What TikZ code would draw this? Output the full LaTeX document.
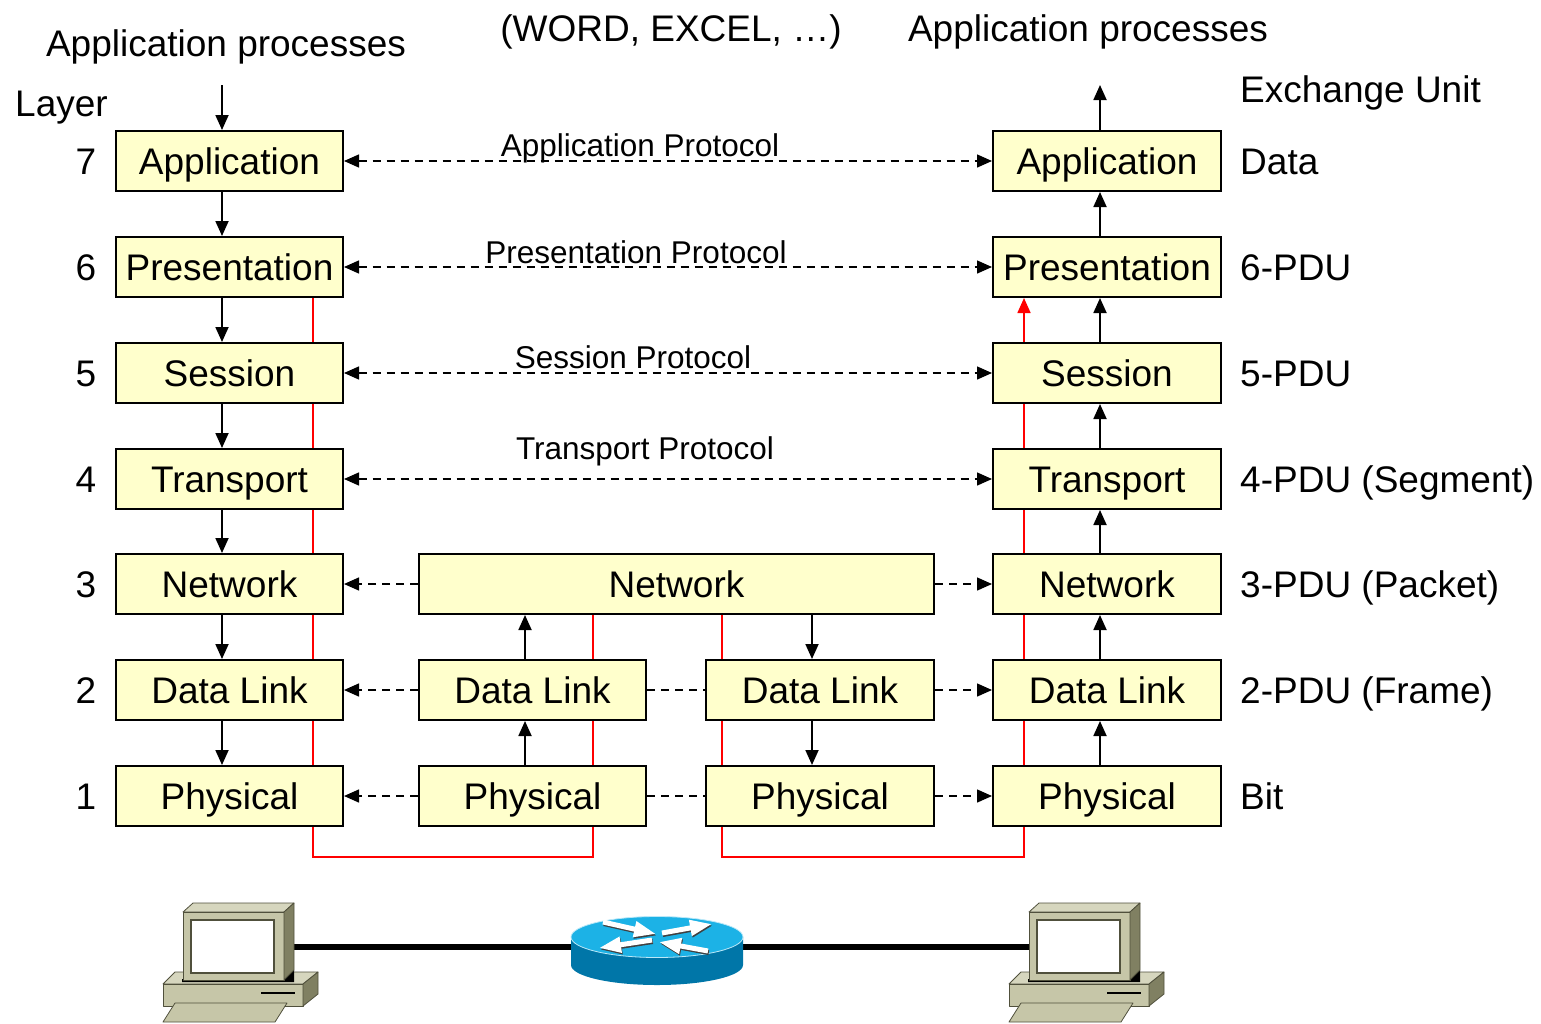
\documentclass[tikz,border=0pt]{standalone}
\usepackage{fontspec}
\setmainfont{Liberation Sans}
\usetikzlibrary{arrows.meta,calc}
\pgfdeclarelayer{background}
\pgfsetlayers{background,main}

\definecolor{boxfill}{HTML}{FFFFCC}
\definecolor{pcfront}{RGB}{198,198,168}
\definecolor{pctop}{RGB}{214,214,190}
\definecolor{pcside}{RGB}{128,128,98}
\definecolor{pcedge}{RGB}{80,80,60}
\definecolor{rtside}{RGB}{0,118,168}
\definecolor{rttop}{RGB}{28,178,230}

\tikzset{
  Tri/.tip={Triangle[length=15pt,width=13pt]},
  layerbox/.style={draw=black, line width=2pt, fill=boxfill,
    font=\fontsize{37}{41}\selectfont, text height=26.5pt, text depth=0pt,
    inner sep=0pt, minimum height=60pt},
  bigtxt/.style={font=\fontsize{37}{41}\selectfont, text height=26.5pt,
    text depth=0pt, inner sep=0pt},
  prototxt/.style={font=\fontsize{31.5}{36}\selectfont, text height=22.6pt,
    text depth=0pt, inner sep=0pt},
  arr/.style={line width=1.8pt, -Tri},
  dline/.style={line width=1.4pt, dash pattern=on 8pt off 6pt},
  redline/.style={draw=red, line width=1.6pt},
  cable/.style={line width=6pt},
  pcpart/.style={draw=pcedge, line width=0.8pt, line join=round},
  pc/.pic={
    % base unit
    \filldraw[pcpart, fill=pctop] (-20,72) -- (-8,60) -- (135,60) -- (120,72) -- cycle;
    \filldraw[pcpart, fill=pcfront] (-20,72) rectangle (120,94);
    \filldraw[pcpart, fill=pcside] (120,72) -- (135,60) -- (135,82) -- (120,94) -- cycle;
    \draw[line width=1.6pt, black] (78,81) -- (112,81);
    % keyboard
    \filldraw[pcpart, fill=pcfront] (-20,110) -- (-8,91) -- (104,91) -- (92,110) -- cycle;
    % monitor
    \fill[black] (-1,67) -- (101,67) -- (111,58) -- (111,70) -- (-1,70) -- cycle;
    \filldraw[pcpart, fill=pctop] (0,0) -- (10,-9) -- (111,-9) -- (101,0) -- cycle;
    \filldraw[pcpart, fill=pcfront] (0,0) rectangle (101,68);
    \filldraw[pcpart, fill=pcside] (101,0) -- (111,-9) -- (111,58) -- (101,68) -- cycle;
    \filldraw[draw=pcedge, line width=1.2pt, fill=white] (8,8) rectangle (91,61);
  },
  rtarrow/.style={white, line width=5pt, -{Triangle[length=22pt,width=15pt]}},
  rtshadow/.style={black!75, line width=5pt, -{Triangle[length=22pt,width=15pt]}},
}

\begin{document}
\begin{tikzpicture}[x=1pt,y=-1pt]
\useasboundingbox (0,0) rectangle (1541,1023);

% ---- left end system ----
\node[layerbox, minimum width=227pt] (l7) at (229.5,161) {Application};
\node[layerbox, minimum width=227pt] (l6) at (229.5,267) {Presentation};
\node[layerbox, minimum width=227pt] (l5) at (229.5,373) {Session};
\node[layerbox, minimum width=227pt] (l4) at (229.5,479) {Transport};
\node[layerbox, minimum width=227pt] (l3) at (229.5,584) {Network};
\node[layerbox, minimum width=227pt] (l2) at (229.5,690) {Data Link};
\node[layerbox, minimum width=227pt] (l1) at (229.5,796) {Physical};

% ---- router stack ----
\node[layerbox, minimum width=515pt] (mn) at (676.5,584) {Network};
\node[layerbox, minimum width=227pt] (md1) at (532.5,690) {Data Link};
\node[layerbox, minimum width=228pt] (md2) at (820,690) {Data Link};
\node[layerbox, minimum width=227pt] (mp1) at (532.5,796) {Physical};
\node[layerbox, minimum width=228pt] (mp2) at (820,796) {Physical};

% ---- right end system ----
\node[layerbox, minimum width=228pt] (r7) at (1107,161) {Application};
\node[layerbox, minimum width=228pt] (r6) at (1107,267) {Presentation};
\node[layerbox, minimum width=228pt] (r5) at (1107,373) {Session};
\node[layerbox, minimum width=228pt] (r4) at (1107,479) {Transport};
\node[layerbox, minimum width=228pt] (r3) at (1107,584) {Network};
\node[layerbox, minimum width=228pt] (r2) at (1107,690) {Data Link};
\node[layerbox, minimum width=228pt] (r1) at (1107,796) {Physical};

% ---- layer numbers ----
\node[bigtxt] (n7) at (86,161) {7};
\node[bigtxt] (n6) at (86,267) {6};
\node[bigtxt] (n5) at (86,373) {5};
\node[bigtxt] (n4) at (86,479) {4};
\node[bigtxt] (n3) at (86,584) {3};
\node[bigtxt] (n2) at (86,690) {2};
\node[bigtxt] (n1) at (86,796) {1};

% ---- headings ----
\node[bigtxt] (apL) at (226,43) {Application processes};
\node[bigtxt, anchor=west] (lay) at (15,103) {Layer};
\node[bigtxt] (word) at (671,28) {(WORD, EXCEL, …)};
\node[bigtxt] (apR) at (1088,28) {Application processes};
\node[bigtxt, anchor=west] (exu) at (1240,89) {Exchange Unit};

% ---- exchange units ----
\node[bigtxt, anchor=west] (u7) at (1240,161) {Data};
\node[bigtxt, anchor=west] (u6) at (1240,267) {6-PDU};
\node[bigtxt, anchor=west] (u5) at (1240,373) {5-PDU};
\node[bigtxt, anchor=west] (u4) at (1240,479) {4-PDU (Segment)};
\node[bigtxt, anchor=west] (u3) at (1240,584) {3-PDU (Packet)};
\node[bigtxt, anchor=west] (u2) at (1240,690) {2-PDU (Frame)};
\node[bigtxt, anchor=west] (u1) at (1240,796) {Bit};

% ---- peer protocols ----
\draw[dline, Tri-Tri] (l7.east) -- (r7.west);
\draw[dline, Tri-Tri] (l6.east) -- (r6.west);
\draw[dline, Tri-Tri] (l5.east) -- (r5.west);
\draw[dline, Tri-Tri] (l4.east) -- (r4.west);
\node[prototxt] (p7) at (640,145) {Application Protocol};
\node[prototxt] (p6) at (636,252) {Presentation Protocol};
\node[prototxt] (p5) at (633,357) {Session Protocol};
\node[prototxt] (p4) at (645,448) {Transport Protocol};

\draw[dline, -Tri] (mn.west) -- (l3.east);
\draw[dline, -Tri] (mn.east) -- (r3.west);
\draw[dline, -Tri] (md1.west) -- (l2.east);
\draw[dline] (md1.east) -- (md2.west);
\draw[dline, -Tri] (md2.east) -- (r2.west);
\draw[dline, -Tri] (mp1.west) -- (l1.east);
\draw[dline] (mp1.east) -- (mp2.west);
\draw[dline, -Tri] (mp2.east) -- (r1.west);

% ---- vertical service flow, sender side ----
\coordinate (inL) at (222,85);
\draw[arr] (inL) -- (inL |- l7.north);
\draw[arr] ([xshift=-7.5pt]l7.south) -- ([xshift=-7.5pt]l6.north);
\draw[arr] ([xshift=-7.5pt]l6.south) -- ([xshift=-7.5pt]l5.north);
\draw[arr] ([xshift=-7.5pt]l5.south) -- ([xshift=-7.5pt]l4.north);
\draw[arr] ([xshift=-7.5pt]l4.south) -- ([xshift=-7.5pt]l3.north);
\draw[arr] ([xshift=-7.5pt]l3.south) -- ([xshift=-7.5pt]l2.north);
\draw[arr] ([xshift=-7.5pt]l2.south) -- ([xshift=-7.5pt]l1.north);

% ---- router ----
\draw[arr] ([xshift=-7.5pt]mp1.north) -- ([xshift=-7.5pt]md1.south);
\draw[arr] ([xshift=-7.5pt]md1.north) -- ([xshift=-7.5pt]md1.north |- mn.south);
\draw[arr] ([xshift=-8pt]md2.north |- mn.south) -- ([xshift=-8pt]md2.north);
\draw[arr] ([xshift=-8pt]md2.south) -- ([xshift=-8pt]mp2.north);

% ---- receiver side ----
\coordinate (outR) at (1100,85);
\draw[arr] ([xshift=-7pt]r1.north) -- ([xshift=-7pt]r2.south);
\draw[arr] ([xshift=-7pt]r2.north) -- ([xshift=-7pt]r3.south);
\draw[arr] ([xshift=-7pt]r3.north) -- ([xshift=-7pt]r4.south);
\draw[arr] ([xshift=-7pt]r4.north) -- ([xshift=-7pt]r5.south);
\draw[arr] ([xshift=-7pt]r5.north) -- ([xshift=-7pt]r6.south);
\draw[arr] ([xshift=-7pt]r6.north) -- ([xshift=-7pt]r7.south);
\draw[arr] (outR |- r7.north) -- (outR);

% ---- actual data path (red), behind the boxes ----
\coordinate (ra) at (313,857);
\coordinate (rb) at (593,857);
\coordinate (rc) at (722,857);
\coordinate (rd) at (1024,857);
\begin{pgfonlayer}{background}
  \draw[redline] (ra |- l6.south) -- (ra) -- (rb) -- (rb |- mn.south);
  \draw[redline] (rc |- mn.south) -- (rc) -- (rd) -- (rd |- r5.south);
\end{pgfonlayer}
\draw[redline, -{Triangle[length=15pt,width=13pt]}, red] (rd |- r5.north) -- (rd |- r6.south);

% ---- physical network ----
\coordinate (pcL) at (294,947);
\coordinate (pcR) at (1029,947);
\draw[cable] (pcL) -- (pcR);
\pic at (183,912) {pc};
\pic at (1029,912) {pc};

% router icon
\coordinate (rt) at (657,937);
\fill[rtside] (571,937) -- (571,965) arc[start angle=180, end angle=360, x radius=86pt, y radius=20pt] -- (743,937) -- cycle;
\fill[rttop] (rt) ellipse[x radius=86pt, y radius=20.5pt];
\draw[white!70!rttop, line width=0.8pt] (rt) ellipse[x radius=86pt, y radius=20.5pt];
\begin{scope}[shift={(0.8,1.5)}]
  \draw[rtshadow] (603,922) -- (656,934);
  \draw[rtshadow] (662,933) -- (712,924);
  \draw[rtshadow] (652,940) -- (599,948);
  \draw[rtshadow] (708,951) -- (659,942);
\end{scope}
\draw[rtarrow] (603,922) -- (656,934);
\draw[rtarrow] (662,933) -- (712,924);
\draw[rtarrow] (652,940) -- (599,948);
\draw[rtarrow] (708,951) -- (659,942);
\end{tikzpicture}
\end{document}
